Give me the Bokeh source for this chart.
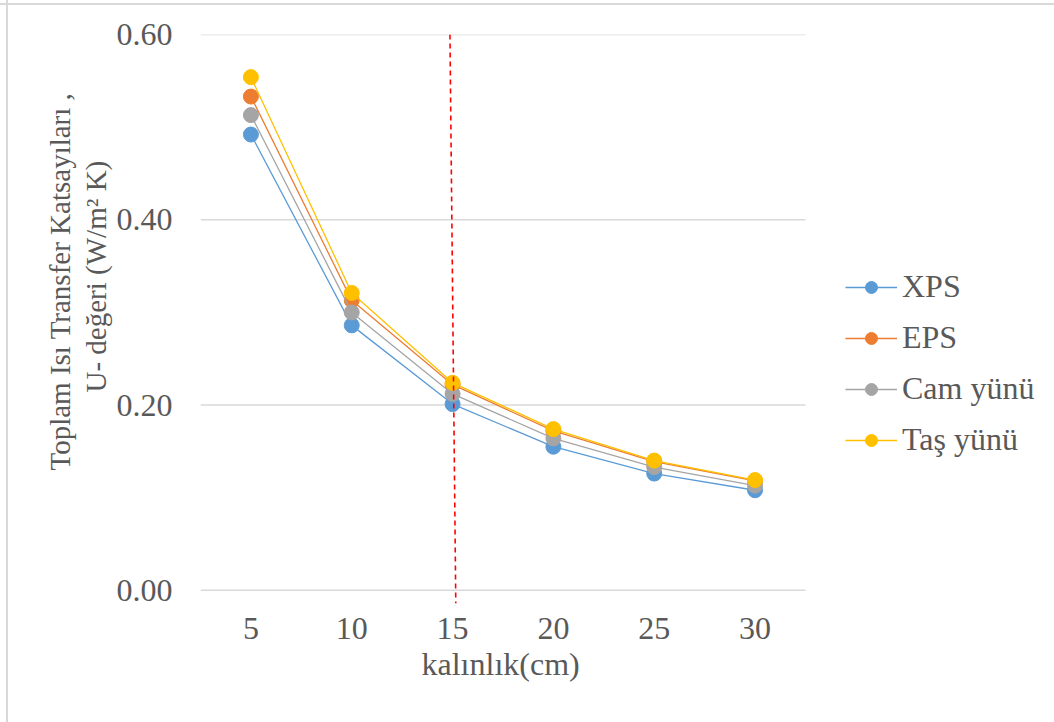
from bokeh.plotting import figure
from bokeh.models import (Range1d, FixedTicker, Legend, LegendItem, Title,
                          CustomJSTickFormatter)
from bokeh.embed import file_html
from bokeh.resources import INLINE

# ---- data ----
thickness = [5, 10, 15, 20, 25, 30]
xps = [0.492, 0.286, 0.201, 0.155, 0.126, 0.108]
eps = [0.533, 0.313, 0.222, 0.172, 0.139, 0.118]
cam = [0.513, 0.300, 0.212, 0.164, 0.133, 0.113]
tas = [0.554, 0.321, 0.224, 0.174, 0.140, 0.119]
series_names = ["XPS", "EPS", "Cam yünü", "Taş yünü"]
series_colors = ["#5B9BD5", "#ED7D31", "#A5A5A5", "#FFC000"]
y_ticks = [0.0, 0.2, 0.4, 0.6]
marker_x = [14.87, 15.16]   # red dashed marker line (top, bottom)
marker_y = [0.600, -0.014]
y_title_lines = ["Toplam Isı Transfer Katsayıları ,", "U- değeri (W/m² K)"]
x_title = "kalınlık(cm)"

FONT = "Liberation Serif"
GRAY = "#595959"
FS = "32px"

X0, X1 = 2.5, 32.5          # category band of the plot area
X_EXT = 44.85               # frame extended to the right for the legend

p = figure(width=1054, height=722, output_backend="svg", toolbar_location=None,
           x_range=Range1d(X0, X_EXT), y_range=Range1d(-0.0175, 0.60),
           min_border_left=200, min_border_right=0, min_border_top=34,
           min_border_bottom=116)
p.outline_line_color = None
p.background_fill_color = "white"
p.border_fill_alpha = 0
p.styles = {
    "background-color": "white",
    "background-image": "linear-gradient(#D9D9D9,#D9D9D9), linear-gradient(#D9D9D9,#D9D9D9)",
    "background-size": "100% 2px, 2px 100%",
    "background-position": "0 3px, 6px 0",
    "background-repeat": "no-repeat",
}

# horizontal grid lines limited to the plot band
p.segment(x0=[X0] * len(y_ticks), x1=[X1] * len(y_ticks), y0=y_ticks,
          y1=y_ticks, line_color="#D9D9D9", line_width=1.5)

renderers = []
for vals, name, col in zip([xps, eps, cam, tas], series_names, series_colors):
    l = p.line(thickness, vals, line_color=col, line_width=1.3)
    s = p.scatter(thickness, vals, size=15, fill_color=col, line_color=col)
    renderers.append((name, [l, s]))

p.line(marker_x, marker_y, line_color="#FF0000", line_width=1.6,
       line_dash="5 4")

# axes
p.xaxis.ticker = FixedTicker(ticks=thickness)
p.yaxis.ticker = FixedTicker(ticks=y_ticks)
p.yaxis.formatter = CustomJSTickFormatter(code="return tick.toFixed(2);")
for ax in (p.xaxis[0], p.yaxis[0]):
    ax.axis_line_color = None
    ax.major_tick_line_color = None
    ax.minor_tick_line_color = None
    ax.major_label_text_font = FONT
    ax.major_label_text_font_size = FS
    ax.major_label_text_color = GRAY
p.xaxis.major_label_standoff = 5
p.yaxis.major_label_standoff = 22
p.xgrid.grid_line_color = None
p.ygrid.grid_line_color = None

# x-axis title below, aligned under the plot band
p.add_layout(Title(text=x_title, align="left", offset=221, standoff=4,
                   text_font=FONT, text_font_size=FS,
                   text_font_style="normal", text_color=GRAY), "below")

# y-axis title (two lines, rotated) as left-side titles
for txt, off, so in [(y_title_lines[1], 214, 4), (y_title_lines[0], 136, 0)]:
    p.add_layout(Title(text=txt, align="left", offset=off, standoff=so,
                       text_font=FONT, text_font_size="29px",
                       text_font_style="normal", text_color=GRAY), "left")

legend = Legend(items=[LegendItem(label=n, renderers=r) for n, r in renderers],
                location=(645, 148), orientation="vertical",
                border_line_color=None, background_fill_alpha=0,
                glyph_width=52, glyph_height=30, spacing=14, padding=0,
                margin=0, label_standoff=5,
                label_text_font=FONT, label_text_font_size=FS,
                label_text_color=GRAY)
p.add_layout(legend, "center")

open("out.html", "w").write(file_html(p, INLINE))
